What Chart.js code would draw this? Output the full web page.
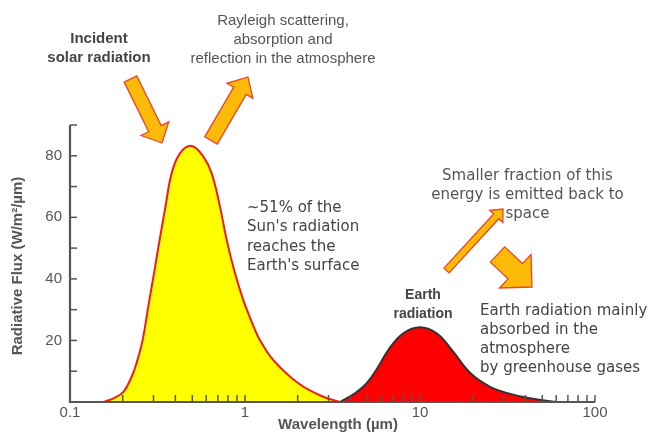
<!DOCTYPE html>
<html><head><meta charset="utf-8">
<script src="https://cdn.jsdelivr.net/npm/chart.js@4.4.0/dist/chart.umd.min.js"></script>
<style>html,body{margin:0;padding:0;background:#fff;}#wrap{width:651px;height:434px;position:relative;}</style>
</head><body><div id="wrap"><canvas id="c" width="651" height="434"></canvas></div>
<script>
// ---- data ----
const solarWavelength = [0.155, 0.177, 0.202, 0.225, 0.240, 0.260, 0.280, 0.302, 0.325, 0.351, 0.381, 0.425, 0.496, 0.578, 0.645, 0.72, 0.786, 0.877, 0.978, 1.13, 1.218, 1.452, 2.017, 2.8, 3.5];
const solarFlux       = [0,     1.2,   3.3,   8.2,   12.6,  20.1,  31,    41.8,  52.6,  63.4,  74.3,  80.8,  83.2,  79.7,  74.3,  63.4, 52.6,  41.8,  33.1,  24,   20.1,  13.6,  6.1,   1.7, 0];
const earthWavelength = [3.49, 4.25, 4.96, 5.78, 6.59, 8.03, 10.0, 12.45, 15.2, 19.3, 25, 32, 42.5, 60];
const earthFlux       = [0,    2.8,  6.1,  11.5, 16.9, 22.3, 24.3, 22.3,  16.9, 9.5,  5,  2.8, 1.2, 0];
const xTickLabels = [0.1, 1, 10, 100];
const xMinorTicks = [0.2,0.3,0.4,0.5,0.6,0.7,0.8,0.9,1,2,3,4,5,6,7,8,9,10,20,30,40,50,60,70,80,90,100];
const yTickLabels = [20, 40, 60, 80];
const yMinorTicks = [10,20,30,40,50,60,70,80,90];
const xTitle = 'Wavelength (\u00b5m)';
const yTitle = 'Radiative Flux (W/m\u00b2/\u00b5m)';

const SANS = '"Liberation Sans", Arial, sans-serif';
const DEJA = '"DejaVu Sans", sans-serif';

function blockArrow(ctx, tx, ty, hx, hy, sw, hw, hl) {
  const dx = hx - tx, dy = hy - ty, L = Math.hypot(dx, dy);
  const ux = dx / L, uy = dy / L, nx = -uy, ny = ux;
  const bx = hx - ux * hl, by = hy - uy * hl;
  ctx.beginPath();
  ctx.moveTo(tx + nx * sw / 2, ty + ny * sw / 2);
  ctx.lineTo(bx + nx * sw / 2, by + ny * sw / 2);
  ctx.lineTo(bx + nx * hw / 2, by + ny * hw / 2);
  ctx.lineTo(hx, hy);
  ctx.lineTo(bx - nx * hw / 2, by - ny * hw / 2);
  ctx.lineTo(bx - nx * sw / 2, by - ny * sw / 2);
  ctx.lineTo(tx - nx * sw / 2, ty - ny * sw / 2);
  ctx.closePath();
  ctx.fillStyle = '#fbb908';
  ctx.fill();
  ctx.strokeStyle = '#e8462a';
  ctx.lineWidth = 1.3;
  ctx.lineJoin = 'miter';
  ctx.stroke();
}

function lines(ctx, arr, x, y, step, font, color, align) {
  ctx.font = font; ctx.fillStyle = color; ctx.textAlign = align; ctx.textBaseline = 'middle';
  arr.forEach((t, i) => ctx.fillText(t, x, y + i * step));
}

const annot = {
  id: 'annot',
  afterDatasetsDraw(chart) {
    const {ctx, scales: {x, y}} = chart;
    ctx.save();
    const x0 = x.getPixelForValue(0.1), x1 = x.getPixelForValue(100);
    const y0 = y.getPixelForValue(0), y1 = y.getPixelForValue(90);
    // inward ticks
    ctx.strokeStyle = '#555'; ctx.lineWidth = 1.5;
    yMinorTicks.forEach(v => { const p = y.getPixelForValue(v); ctx.beginPath(); ctx.moveTo(x0, p); ctx.lineTo(x0 + 7, p); ctx.stroke(); });
    xMinorTicks.forEach(v => { const p = x.getPixelForValue(v); ctx.beginPath(); ctx.moveTo(p, y0); ctx.lineTo(p, y0 - 7); ctx.stroke(); });
    // axes
    ctx.lineWidth = 2.2;
    ctx.beginPath(); ctx.moveTo(x0, y1); ctx.lineTo(x0, y0); ctx.lineTo(x1, y0); ctx.stroke();
    // axis titles
    ctx.font = 'bold 15px ' + SANS; ctx.fillStyle = '#555'; ctx.textAlign = 'center'; ctx.textBaseline = 'middle';
    ctx.fillText(xTitle, 338, 425);
    ctx.save(); ctx.translate(18, 266); ctx.rotate(-Math.PI / 2); ctx.fillText(yTitle, 0, 0); ctx.restore();
    // arrows
    blockArrow(ctx, 130.5, 79, 162, 143, 14, 31, 16);
    blockArrow(ctx, 211, 140.5, 248, 77, 14.5, 30, 16);
    blockArrow(ctx, 446.5, 270.5, 503, 209, 7, 18, 10);
    blockArrow(ctx, 497.5, 254.5, 532, 287, 21, 46, 23);
    // texts
    lines(ctx, ['Incident', 'solar radiation'], 99, 39, 19, 'bold 15px ' + SANS, '#454545', 'center');
    lines(ctx, ['Rayleigh scattering,', 'absorption and', 'reflection in the atmosphere'], 283, 20.5, 19, '15px ' + SANS, '#555', 'center');
    lines(ctx, ['~51% of the', "Sun's radiation", 'reaches the', "Earth's surface"], 247, 208, 19.5, '15px ' + DEJA, '#444', 'left');
    lines(ctx, ['Smaller fraction of this', 'energy is emitted back to', 'space'], 527.5, 176.5, 18.8, '15px ' + DEJA, '#555', 'center');
    lines(ctx, ['Earth', 'radiation'], 423, 295, 19, 'bold 14px ' + SANS, '#454545', 'center');
    lines(ctx, ['Earth radiation mainly', 'absorbed in the', 'atmosphere', 'by greenhouse gases'], 480, 311.5, 19, '15px ' + DEJA, '#444', 'left');
    ctx.restore();
  }
};

new Chart(document.getElementById('c').getContext('2d'), {
  type: 'line',
  data: {
    datasets: [
      { label: 'Solar', data: solarWavelength.map((v, i) => ({x: v, y: solarFlux[i]})),
        borderColor: '#ee1c1c', backgroundColor: '#ffff00', borderWidth: 2, fill: 'origin',
        pointRadius: 0, tension: 0.4, order: 2 },
      { label: 'Earth', data: earthWavelength.map((v, i) => ({x: v, y: earthFlux[i]})),
        borderColor: '#333333', backgroundColor: '#ff0000', borderWidth: 2, fill: 'origin',
        pointRadius: 0, tension: 0.4, order: 1 }
    ]
  },
  options: {
    responsive: false, animation: false, devicePixelRatio: 1,
    layout: { padding: { left: 0, right: 56, top: 125, bottom: 0 } },
    plugins: { legend: { display: false }, tooltip: { enabled: false } },
    scales: {
      x: {
        type: 'logarithmic', min: 0.1, max: 100,
        afterBuildTicks: s => { s.ticks = xTickLabels.map(v => ({value: v})); },
        afterFit: s => { s.height = 32; },
        ticks: { callback: v => String(v), font: { size: 15, family: SANS }, color: '#555', padding: 2, maxRotation: 0, autoSkip: false },
        grid: { display: false, drawTicks: false }, border: { display: false }
      },
      y: {
        min: 0, max: 90,
        afterBuildTicks: s => { s.ticks = yTickLabels.map(v => ({value: v})); },
        afterFit: s => { s.width = 70; },
        ticks: { font: { size: 15, family: SANS }, color: '#555', padding: 8 },
        grid: { display: false, drawTicks: false }, border: { display: false }
      }
    }
  },
  plugins: [annot]
});
</script></body></html>
